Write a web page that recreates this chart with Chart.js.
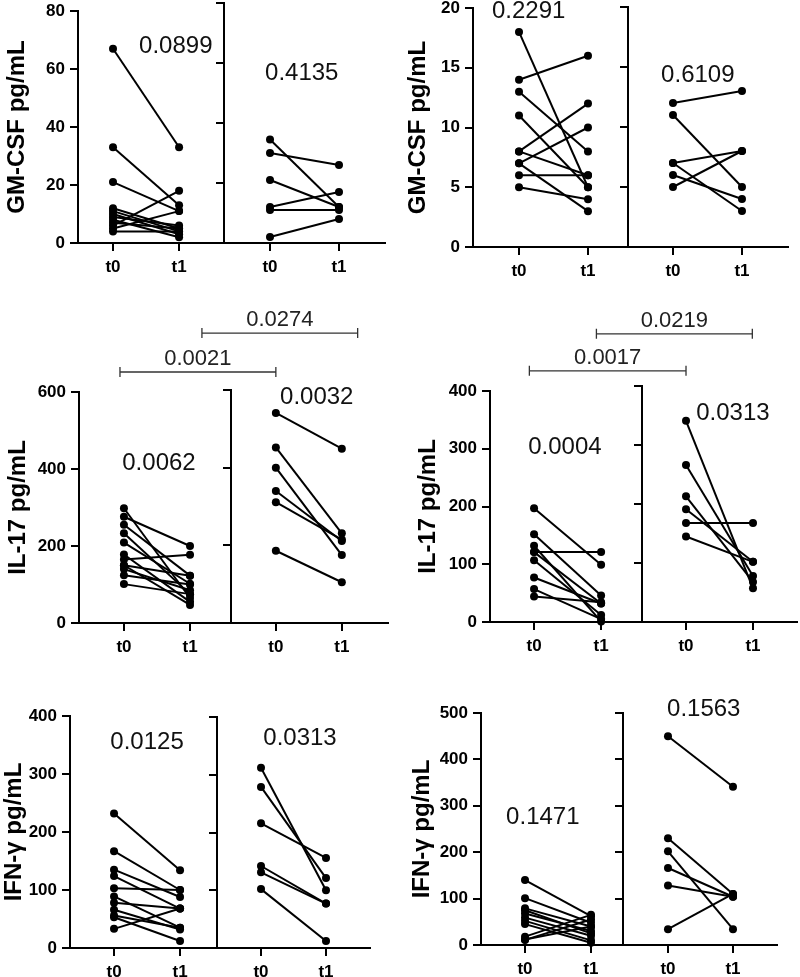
<!DOCTYPE html>
<html>
<head>
<meta charset="utf-8">
<script src="https://cdn.jsdelivr.net/npm/chart.js@4.4.0/dist/chart.umd.min.js"></script>
<style>
  body { margin: 0; background: #fff; }
  #wrap { position: relative; width: 800px; height: 977px; overflow: hidden; }
  #wrap canvas { position: absolute; }
</style>
</head>
<body>
<div id="wrap"></div>
<script>
var timeLabels = ['t0', 't1'];

// GM-CSF, first group (left: n=12, right: n=6)
var gm1LeftT0 = [67, 33, 21, 12, 11, 10, 9, 8, 7, 6, 5, 4];
var gm1LeftT1 = [33, 13, 11, 5, 4, 3, 6, 2, 5, 18, 11, 4];
var gm1RightT0 = [34.5, 30, 21, 12, 11, 2];
var gm1RightT1 = [12, 26, 12, 17, 11, 8];

// GM-CSF, second group
var gm2LeftT0 = [18, 14, 13, 11, 8, 7, 7, 6, 5, 8];
var gm2LeftT1 = [5, 16, 8, 5, 12, 10, 3, 6, 4, 6];
var gm2RightT0 = [12, 11, 7, 7, 6, 5];
var gm2RightT1 = [13, 5, 8, 3, 4, 8];

// IL-17, first group
var il1LeftT0 = [298, 276, 255, 233, 209, 178, 165, 150, 140, 124, 101, 150];
var il1LeftT1 = [65, 200, 123, 75, 102, 55, 177, 123, 85, 100, 75, 47];
var il1RightT0 = [541, 452, 400, 340, 311, 186];
var il1RightT1 = [449, 231, 175, 211, 215, 105];

// IL-17, second group
var il2LeftT0 = [197, 152, 132, 121, 121, 107, 77, 57, 44];
var il2LeftT1 = [99, 46, 1, 121, 32, 12, 32, 5, 34];
var il2RightT0 = [341, 266, 213, 191, 168, 145];
var il2RightT1 = [57, 78, 68, 102, 168, 102];

// IFN-gamma, first group
var ifn1LeftT0 = [232, 167, 135, 124, 103, 89, 78, 66, 56, 53, 33];
var ifn1LeftT1 = [134, 100, 88, 68, 100, 35, 68, 32, 35, 12, 68];
var ifn1RightT0 = [312, 279, 216, 142, 131, 102];
var ifn1RightT1 = [100, 121, 156, 77, 77, 12];

// IFN-gamma, second group
var ifn2LeftT0 = [140, 101, 79, 75, 68, 59, 52, 45, 18, 11, 12];
var ifn2LeftT1 = [62, 48, 40, 25, 30, 20, 10, 5, 65, 55, 40];
var ifn2RightT0 = [450, 230, 202, 166, 128, 34];
var ifn2RightT1 = [341, 110, 34, 104, 104, 110];

var pWithin = ['0.0899', '0.4135', '0.2291', '0.6109', '0.0062', '0.0032',
               '0.0004', '0.0313', '0.0125', '0.0313', '0.1471', '0.1563'];
var pBetween = ['0.0021', '0.0274', '0.0017', '0.0219'];

Chart.defaults.font.family = '"Liberation Sans", Arial, sans-serif';
Chart.defaults.color = '#000';

// plot boxes (page pixels) and axis ranges for each sub panel
var subPanels = [
  { t0: gm1LeftT0, t1: gm1LeftT1, L: 78, R: 224, T: 11, B: 243, yMax: 80, step: 20, yw: 75, title: 'GM-CSF pg/mL', xMin: -0.53, xMax: 1.68, pAt: [0.95, 67.7] },
  { t0: gm1RightT0, t1: gm1RightT1, L: 224, R: 385, T: 3, B: 243, yMax: 80, step: 20, yw: 12, xMin: -0.667, xMax: 1.667, pAt: [0.46, 56.6] },
  { t0: gm2LeftT0, t1: gm2LeftT1, L: 473, R: 628, T: 8, B: 247, yMax: 20, step: 5, yw: 69, title: 'GM-CSF pg/mL', xMin: -0.667, xMax: 1.58, pAt: [0.14, 19.75] },
  { t0: gm2RightT0, t1: gm2RightT1, L: 628, R: 788, T: 7, B: 247, yMax: 20, step: 5, yw: 12, xMin: -0.652, xMax: 1.667, pAt: [0.36, 14.3] },
  { t0: il1LeftT0, t1: il1LeftT1, L: 79, R: 231, T: 392, B: 623, yMax: 600, step: 200, yw: 75, title: 'IL-17 pg/mL', xMin: -0.68, xMax: 1.62, pAt: [0.53, 415] },
  { t0: il1RightT0, t1: il1RightT1, L: 231, R: 388, T: 390, B: 623, yMax: 600, step: 200, yw: 12, xMin: -0.68, xMax: 1.7, pAt: [0.62, 582] },
  { t0: il2LeftT0, t1: il2LeftT1, L: 490, R: 642, T: 391, B: 622, yMax: 400, step: 100, yw: 76, title: 'IL-17 pg/mL', xMin: -0.657, xMax: 1.61, pAt: [0.46, 303] },
  { t0: il2RightT0, t1: il2RightT1, L: 642, R: 797, T: 386, B: 622, yMax: 400, step: 100, yw: 12, xMin: -0.657, xMax: 1.657, pAt: [0.7, 354] },
  { t0: ifn1LeftT0, t1: ifn1LeftT1, L: 70, R: 217, T: 716, B: 948, yMax: 400, step: 100, yw: 70, title: 'IFN-γ pg/mL', xMin: -0.667, xMax: 1.56, pAt: [0.5, 355] },
  { t0: ifn1RightT0, t1: ifn1RightT1, L: 217, R: 370, T: 717, B: 948, yMax: 400, step: 100, yw: 12, xMin: -0.677, xMax: 1.677, pAt: [0.6, 363] },
  { t0: ifn2LeftT0, t1: ifn2LeftT1, L: 481, R: 623, T: 713, B: 945, yMax: 500, step: 100, yw: 73, title: 'IFN-γ pg/mL', xMin: -0.667, xMax: 1.485, pAt: [0.27, 274] },
  { t0: ifn2RightT0, t1: ifn2RightT1, L: 623, R: 777, T: 713, B: 945, yMax: 500, step: 100, yw: 12, xMin: -0.692, xMax: 1.677, pAt: [0.55, 508] }
];

// comparison brackets between the two groups (left end on one chart, right end on the other)
var brackets = [
  { from: 4, to: 5, x0: -0.06, x1: 0, y: 652, text: pBetween[0] },
  { from: 4, to: 5, x0: 1.18, x1: 1.24, y: 753, text: pBetween[1] },
  { from: 6, to: 7, x0: -0.07, x1: 0, y: 435, text: pBetween[2] },
  { from: 6, to: 7, x0: 0.93, x1: 0.99, y: 499, text: pBetween[3] }
];

var pLabelPlugin = {
  id: 'pLabel',
  afterDatasetsDraw: function(chart, args, opts) {
    if (!opts.text) return;
    var ctx = chart.ctx;
    ctx.save();
    ctx.font = '24px "Liberation Sans", Arial, sans-serif';
    ctx.fillStyle = '#111';
    ctx.textAlign = 'center';
    ctx.textBaseline = 'middle';
    ctx.fillText(opts.text, chart.scales.x.getPixelForValue(opts.x), chart.scales.y.getPixelForValue(opts.y));
    ctx.restore();
  }
};

var wrap = document.getElementById('wrap');

function makeChart(sp, idx) {
  var padTop = 24, xh = 45, padRight = 4;
  var isLeft = !!sp.title;
  var w = sp.yw + (sp.R - sp.L) + padRight;
  var h = padTop + (sp.B - sp.T) + xh;
  var canvas = document.createElement('canvas');
  canvas.width = w;
  canvas.height = h;
  canvas.style.width = w + 'px';
  canvas.style.height = h + 'px';
  sp.offX = sp.L - sp.yw;
  sp.offY = sp.T - padTop;
  canvas.style.left = sp.offX + 'px';
  canvas.style.top = sp.offY + 'px';
  wrap.appendChild(canvas);

  var datasets = [];
  for (var i = 0; i < sp.t0.length; i++) {
    datasets.push({
      data: [{ x: 0, y: sp.t0[i] }, { x: 1, y: sp.t1[i] }],
      borderColor: '#000',
      backgroundColor: '#000',
      borderWidth: 2,
      pointRadius: 4,
      pointBorderWidth: 0,
      clip: false
    });
  }

  sp.chart = new Chart(canvas, {
    type: 'line',
    data: { datasets: datasets },
    plugins: [pLabelPlugin],
    options: {
      responsive: false,
      animation: false,
      layout: { padding: { top: padTop, right: padRight, left: 0, bottom: 0 } },
      plugins: {
        legend: { display: false },
        tooltip: { enabled: false },
        pLabel: { text: pWithin[idx], x: sp.pAt[0], y: sp.pAt[1] }
      },
      scales: {
        x: {
          type: 'linear',
          min: sp.xMin,
          max: sp.xMax,
          afterBuildTicks: function(s) { s.ticks = [{ value: 0 }, { value: 1 }]; },
          ticks: {
            callback: function(v) { return timeLabels[v]; },
            color: '#000',
            font: { weight: 'bold', size: 17 },
            padding: 6,
            maxRotation: 0,
            autoSkip: false
          },
          grid: { drawOnChartArea: false, color: '#000', lineWidth: 2, tickLength: 8 },
          border: { color: '#000', width: 2 },
          afterFit: function(s) { s.height = xh; }
        },
        y: {
          min: 0,
          max: sp.yMax,
          ticks: {
            stepSize: sp.step,
            display: isLeft,
            color: '#000',
            font: { weight: 'bold', size: 17 },
            padding: 5
          },
          grid: { drawOnChartArea: false, color: '#000', lineWidth: 2, tickLength: 8 },
          border: { color: '#000', width: 2 },
          title: {
            display: isLeft,
            text: sp.title || '',
            color: '#000',
            font: { weight: 'bold', size: 24 },
            padding: 0
          },
          afterFit: function(s) { s.width = sp.yw; }
        }
      }
    }
  });
}

for (var k = 0; k < subPanels.length; k++) {
  makeChart(subPanels[k], k);
}

// overlay for the brackets that cross two charts
var overlay = document.createElement('canvas');
overlay.width = 800;
overlay.height = 977;
overlay.style.left = '0px';
overlay.style.top = '0px';
wrap.appendChild(overlay);
var octx = overlay.getContext('2d');

brackets.forEach(function(b) {
  var a = subPanels[b.from], c = subPanels[b.to];
  var x0 = a.offX + a.chart.scales.x.getPixelForValue(b.x0);
  var x1 = c.offX + c.chart.scales.x.getPixelForValue(b.x1);
  var y = a.offY + a.chart.scales.y.getPixelForValue(b.y);
  octx.strokeStyle = '#333';
  octx.lineWidth = 1.3;
  octx.beginPath();
  octx.moveTo(x0, y); octx.lineTo(x1, y);
  octx.moveTo(x0, y - 5); octx.lineTo(x0, y + 5);
  octx.moveTo(x1, y - 5); octx.lineTo(x1, y + 5);
  octx.stroke();
  octx.fillStyle = '#222';
  octx.font = '22px "Liberation Sans", Arial, sans-serif';
  octx.textAlign = 'center';
  octx.textBaseline = 'middle';
  octx.fillText(b.text, (x0 + x1) / 2, y - 13);
});
</script>
</body>
</html>
